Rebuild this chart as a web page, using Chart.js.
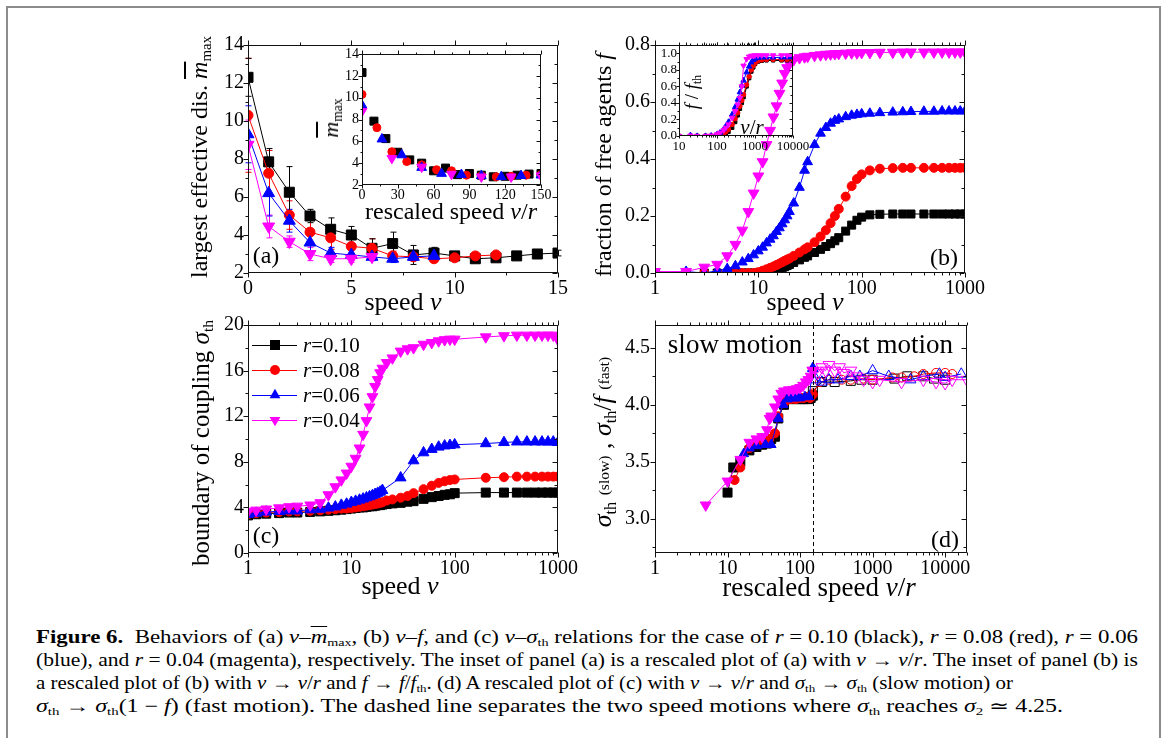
<!DOCTYPE html>
<html>
<head>
<meta charset="utf-8">
<title>Figure 6</title>
<script src="https://cdn.jsdelivr.net/npm/chart.js@4.4.0/dist/chart.umd.min.js"></script>
<style>
  html, body { margin: 0; padding: 0; background: #fff; }
  body { position: relative; width: 1165px; height: 738px; overflow: hidden; font-family: 'Liberation Serif', 'Times New Roman', serif; color: #000; }
  #page { position: absolute; left: 6px; top: 6px; width: 1155px; height: 800px; border: 2px solid #8c8c8c; box-sizing: border-box; }
  canvas { position: absolute; }
  .t { position: absolute; transform: translate(-50%, -50%); white-space: nowrap; line-height: 1; }
  .r { position: absolute; transform: translate(-50%, -50%) rotate(-90deg); white-space: nowrap; line-height: 1; }
  .cap { position: absolute; left: 36px; font-size: 18px; line-height: 23px; display: inline-block; white-space: nowrap; transform-origin: 0 0; }
  sub { font-size: 0.62em; vertical-align: -0.3em; line-height: 0; }
  .sm { font-size: 0.6em; vertical-align: 0.15em; }
  .ov { text-decoration: overline; }
</style>
</head>
<body>
<div id="page"></div>

<canvas id="chartA"></canvas>
<canvas id="chartB"></canvas>
<canvas id="chartC"></canvas>
<canvas id="chartD"></canvas>
<canvas id="insetA"></canvas>
<canvas id="insetB"></canvas>

<!-- axis titles and panel texts -->
<div class="r" style="left:199px;top:157px;font-size:24px">largest effective dis. <i class="ov">m</i><sub>max</sub></div>
<div class="t" style="left:403px;top:302px;font-size:26px">speed <i>v</i></div>
<div class="r" style="left:331px;top:118px;font-size:22px"><i class="ov">m</i><sub>max</sub></div>
<div class="t" style="left:451px;top:211px;font-size:24px">rescaled speed <i>v</i>/<i>r</i></div>
<div class="t" style="left:266px;top:255px;font-size:24px">(a)</div>

<div class="r" style="left:603px;top:165px;font-size:24px">fraction of free agents <i>f</i></div>
<div class="t" style="left:805px;top:302px;font-size:26px">speed <i>v</i></div>
<div class="r" style="left:691px;top:92px;font-size:19px"><i>f</i> / <i>f</i><sub>th</sub></div>
<div class="t" style="left:752px;top:127px;font-size:21px"><i>v</i>/<i>r</i></div>
<div class="t" style="left:944px;top:257px;font-size:24px">(b)</div>

<div class="r" style="left:200px;top:443px;font-size:25px">boundary of coupling <i>σ</i><sub>th</sub></div>
<div class="t" style="left:400px;top:586px;font-size:26px">speed <i>v</i></div>
<div class="t" style="left:266px;top:535px;font-size:24px">(c)</div>

<div class="r" style="left:603px;top:442px;font-size:26px"><i>σ</i><sub>th</sub> <span class="sm">(slow)</span> , <i>σ</i><sub>th</sub>/<i>f</i> <span class="sm">(fast)</span></div>
<div class="t" style="left:819px;top:587px;font-size:27px">rescaled speed <i>v</i>/<i>r</i></div>
<div class="t" style="left:735px;top:344px;font-size:27px">slow motion</div>
<div class="t" style="left:892px;top:344px;font-size:27px">fast motion</div>
<div class="t" style="left:945px;top:539px;font-size:24px">(d)</div>

<div class="cap" data-w="1102" style="top:626px"><b>Figure 6.</b>&ensp;Behaviors of (a) <i>v</i>–<i class="ov">m</i><sub>max</sub>, (b) <i>v</i>–<i>f</i>, and (c) <i>v</i>–<i>σ</i><sub>th</sub> relations for the case of <i>r</i> = 0.10 (black), <i>r</i> = 0.08 (red), <i>r</i> = 0.06</div>
<div class="cap" data-w="1102" style="top:649px">(blue), and <i>r</i> = 0.04 (magenta), respectively. The inset of panel (a) is a rescaled plot of (a) with <i>v</i> → <i>v</i>/<i>r</i>. The inset of panel (b) is</div>
<div class="cap" data-w="977" style="top:672px">a rescaled plot of (b) with <i>v</i> → <i>v</i>/<i>r</i> and <i>f</i> → <i>f</i>/<i>f</i><sub>th</sub>. (d) A rescaled plot of (c) with <i>v</i> → <i>v</i>/<i>r</i> and <i>σ</i><sub>th</sub> → <i>σ</i><sub>th</sub> (slow motion) or</div>
<div class="cap" data-w="1027" style="top:695px"><i>σ</i><sub>th</sub> → <i>σ</i><sub>th</sub>(1 − <i>f</i>) (fast motion). The dashed line separates the two speed motions where <i>σ</i><sub>th</sub> reaches <i>σ</i><sub>2</sub> ≃ 4.25.</div>

<script>
// ---- panel (a): largest effective distance vs speed ----
const speedA = [0, 1, 2, 3, 4, 5, 6, 7, 8, 9, 10, 11, 12, 13, 14, 15];
const mmaxBlack   = [12.3, 7.85, 6.25, 5.0, 4.3, 4.0, 3.3, 3.55, 2.95, 3.05, 2.9, 2.75, 2.8, 2.9, 3.0, 3.05];
const mmaxRed     = [10.3, 7.25, 5.05, 4.15, 3.85, 3.4, 3.3, 2.9, 2.85, 2.75, 2.8, 2.9, 2.95];
const mmaxBlue    = [9.3, 6.2, 4.75, 3.6, 3.05, 2.95, 2.85, 2.75, 2.85, 2.9];
const mmaxMagenta = [8.75, 4.45, 3.65, 3.0, 2.75, 2.75, 2.85];
const errBlack   = [1.0, 0.7, 1.35, 0.35, 0.6, 0.45, 0.5, 0.6, 0.5, 0.3, 0.15, 0.15, 0.15, 0.15, 0.15, 0.15];
const errRed     = [3.0, 1.2, 0.75, 0.7, 0.6, 0.4, 0.5, 0.25, 0.15, 0.15, 0.15, 0.15, 0.15];
const errBlue    = [1.5, 1.2, 0.6, 0.45, 0.3, 0.25, 0.2, 0.2, 0.2, 0.2];
const errMagenta = [1.3, 0.6, 0.3, 0.35, 0.2, 0.2, 0.2];
// inset (a): same values against v/r
const ratioBlackA   = [0, 10, 20, 30, 40, 50, 60, 70, 80, 90, 100, 110, 120, 130, 140, 150];
const ratioRedA     = [0, 12.5, 25, 37.5, 50, 62.5, 75, 87.5, 100, 112.5, 125, 137.5, 150];
const ratioBlueA    = [0, 16.7, 33.3, 50, 66.7, 83.3, 100, 116.7, 133.3, 150];
const ratioMagentaA = [0, 25, 50, 75, 100, 125, 150];

// ---- panel (b): fraction of free agents vs speed ----
const speedB = [1, 2, 3, 4, 5, 6, 7, 8, 9, 10, 11, 12, 13, 14, 15, 16, 17, 18, 19, 20,
  22, 25, 28, 30, 35, 40, 45, 50, 55, 60, 70, 80, 90, 100, 120, 150, 200, 250, 300,
  400, 500, 600, 700, 800, 900, 1000];
const fBlack = [0, 0, 0, 0, 0, 0, 0, 0, 0, 0, 0, 0, 0.002, 0.006, 0.01, 0.014, 0.018, 0.022, 0.026, 0.03,
  0.037, 0.046, 0.055, 0.06, 0.072, 0.083, 0.093, 0.103, 0.113, 0.124, 0.147, 0.168, 0.185, 0.196,
  0.204, 0.206, 0.207, 0.207, 0.207, 0.207, 0.207, 0.207, 0.207, 0.207, 0.207, 0.207];
const fRed = [0, 0, 0, 0, 0, 0, 0, 0, 0, 0.003, 0.008, 0.013, 0.018, 0.023, 0.028, 0.033, 0.038, 0.043, 0.047, 0.051,
  0.06, 0.072, 0.083, 0.09, 0.108, 0.128, 0.15, 0.175, 0.2, 0.225, 0.268, 0.305, 0.33, 0.346,
  0.36, 0.366, 0.368, 0.369, 0.369, 0.369, 0.369, 0.369, 0.369, 0.369, 0.369, 0.369];
const fBlue = [0, 0.005, 0, 0.008, 0.015, 0.025, 0.038, 0.05, 0.063, 0.077, 0.09, 0.105, 0.118, 0.13, 0.145, 0.158, 0.172, 0.186, 0.2, 0.215,
  0.245, 0.3, 0.36, 0.39, 0.45, 0.49, 0.51, 0.525, 0.535, 0.54, 0.548, 0.553, 0.556, 0.558,
  0.56, 0.562, 0.564, 0.565, 0.566, 0.567, 0.567, 0.568, 0.568, 0.568, 0.568, 0.568];
const fMagenta = [0.005, 0.005, 0.02, 0.03, 0.06, 0.1, 0.15, 0.215, 0.28, 0.34, 0.39, 0.45, 0.5, 0.547, 0.586, 0.63, 0.666, 0.7, 0.72, 0.735,
  0.748, 0.755, 0.758, 0.76, 0.763, 0.765, 0.767, 0.768, 0.769, 0.77, 0.771, 0.772, 0.772, 0.773,
  0.773, 0.774, 0.774, 0.775, 0.775, 0.775, 0.775, 0.775, 0.775, 0.775, 0.775, 0.775];
// inset (b): f / f_th against v/r
const ratioB = [10, 20, 30, 50, 70, 100, 120, 150, 170, 200, 250, 300, 350, 400, 450, 500, 600, 700, 800, 900,
  1000, 1200, 1500, 2000, 3000, 5000, 7000, 10000];
const fthBlack = [0, 0, 0, 0, 0, 0, 0.005, 0.015, 0.025, 0.05, 0.1, 0.17, 0.25, 0.33, 0.4, 0.47, 0.6, 0.7, 0.78, 0.83,
  0.87, 0.9, 0.91, 0.915, 0.915, 0.915, 0.915, 0.915];
const fthRed = [0, 0, 0, 0, 0, 0.01, 0.015, 0.03, 0.05, 0.08, 0.14, 0.21, 0.28, 0.36, 0.43, 0.5, 0.62, 0.72, 0.8, 0.85,
  0.88, 0.91, 0.92, 0.925, 0.925, 0.925, 0.925, 0.925];
const fthBlue = [0, 0.01, 0, 0, 0.005, 0.02, 0.04, 0.08, 0.12, 0.17, 0.26, 0.35, 0.44, 0.53, 0.61, 0.67, 0.77, 0.84, 0.89, 0.92,
  0.935, 0.945, 0.95, 0.95, 0.95, 0.95, 0.95, 0.95];
const fthMagenta = [0, 0.005, 0, 0, 0.005, 0.02, 0.04, 0.07, 0.1, 0.14, 0.22, 0.3, 0.38, 0.46, 0.6, 0.85, 0.93, 0.96, 0.97, 0.97,
  0.975, 0.975, 0.975, 0.975, 0.975, 0.975, 0.975, 0.975];

// ---- panel (c): boundary of coupling vs speed ----
const speedC = [1, 1.2, 1.5, 2, 2.5, 3, 4, 5, 6, 7, 8, 9, 10, 11, 12, 13, 14, 15, 16, 17, 18, 19, 20,
  22, 25, 30, 35, 40, 50, 60, 70, 80, 90, 100, 200, 300, 400, 500, 600, 700, 800, 900, 1000];
const sigmaBlack = [3.3, 3.4, 3.45, 3.5, 3.55, 3.55, 3.6, 3.65, 3.7, 3.75, 3.8, 3.85, 3.9, 3.95, 4.0, 4.0, 4.05, 4.1, 4.1, 4.15, 4.2, 4.2, 4.25,
  4.3, 4.35, 4.4, 4.5, 4.55, 4.75, 4.9, 5.0, 5.1, 5.15, 5.25, 5.3, 5.3, 5.3, 5.3, 5.3, 5.3, 5.3, 5.3, 5.3];
const sigmaRed = [3.4, 3.5, 3.55, 3.6, 3.65, 3.65, 3.7, 3.75, 3.8, 3.85, 3.9, 3.9, 3.95, 4.0, 4.05, 4.1, 4.15, 4.2, 4.25, 4.3, 4.35, 4.4, 4.45,
  4.6, 4.7, 4.85, 5.0, 5.25, 5.6, 5.9, 6.15, 6.3, 6.4, 6.45, 6.6, 6.65, 6.7, 6.7, 6.7, 6.7, 6.7, 6.7, 6.7];
const sigmaBlue = [3.4, 3.5, 3.6, 3.65, 3.7, 3.7, 3.8, 3.85, 3.95, 4.05, 4.2, 4.3, 4.45, 4.55, 4.65, 4.75, 4.85, 4.95, 5.05, 5.15, 5.25, 5.35, 5.5,
  null, null, 6.6, null, 8.1, 8.8, 9.1, 9.3, 9.4, 9.45, 9.5, 9.6, 9.7, 9.75, 9.75, 9.75, 9.75, 9.75, 9.75, 9.7];
const sigmaMagenta = [3.65, 3.75, 3.85, 3.95, 4.05, 4.1, 4.2, 4.4, 5.1, 5.8, 6.4, 7.0, 7.6, 8.3, 9.2, 10.4, 11.6, 12.8, 13.7, 14.6, 15.2, 15.8, 16.2,
  16.7, 17.1, 17.7, 17.9, 18.0, 18.3, 18.45, 18.6, 18.7, 18.75, 18.75, 18.95, 19.05, 19.1, 19.1, 19.1, 19.1, 19.1, 19.1, 18.7];
const legendR = ['0.10', '0.08', '0.06', '0.04'];

// ---- panel (d): rescaled boundary, slow (filled) and fast (open) motion ----
const dividerSpeed = 150;
const ticksD = [3.0, 3.5, 4.0, 4.5];
const slowBlackX = [10, 12, 15, 20, 25, 30, 35, 40, 45, 50, 60, 70, 80, 90, 100, 110, 120, 130, 140, 150];
const slowBlack  = [3.23, 3.45, 3.5, 3.6, 3.63, 3.65, 3.66, 3.7, 3.72, 3.88, 4.0, 4.05, 4.05, 4.05, 4.05, 4.05, 4.05, 4.05, 4.06, 4.08];
const slowRedX = [12.5, 15, 20, 25, 30, 37.5, 45, 50, 62.5, 75, 87.5, 100, 112.5, 125, 137.5, 150];
const slowRed  = [3.34, 3.45, 3.62, 3.68, 3.69, 3.7, 3.75, 3.9, 4.03, 4.05, 4.05, 4.06, 4.06, 4.07, 4.06, 4.09];
const slowBlueX = [16.7, 20, 25, 33.3, 40, 50, 58.3, 66.7, 75, 83.3, 91.7, 100, 116.7, 133.3, 150];
const slowBlue  = [3.57, 3.62, 3.64, 3.65, 3.65, 3.88, 4.0, 4.05, 4.06, 4.06, 4.06, 4.06, 4.07, 4.07, 4.32];
const slowMagentaX = [5, 10, 15, 20, 25, 30, 35, 38, 40, 45, 50, 55, 60, 70, 80, 90, 100, 110, 120, 130, 140, 150];
const slowMagenta  = [3.12, 3.33, 3.52, 3.67, 3.7, 3.72, 3.78, 3.88, 3.9, 3.98, 4.05, 4.1, 4.12, 4.13, 4.13, 4.14, 4.15, 4.17, 4.2, 4.22, 4.25, 4.3];
const fastBlackX = [150, 200, 300, 500, 700, 1000, 2000, 3000, 5000, 7000, 10000];
const fastBlack  = [4.12, 4.2, 4.2, 4.21, 4.22, 4.22, 4.23, 4.25, 4.25, 4.23, 4.22];
const fastRedX = [150, 187.5, 250, 375, 500, 750, 1000, 1875, 2500, 3750, 5000, 7500, 10000, 12500];
const fastRed  = [4.1, 4.2, 4.22, 4.22, 4.22, 4.23, 4.22, 4.24, 4.24, 4.25, 4.27, 4.28, 4.28, 4.27];
const fastBlueX = [150, 167, 200, 250, 333, 500, 667, 1000, 1667, 3333, 5000, 8333, 10000, 16667];
const fastBlue  = [4.32, 4.22, 4.2, 4.22, 4.22, 4.25, 4.25, 4.3, 4.25, 4.22, 4.25, 4.27, 4.24, 4.27];
const fastMagentaX = [150, 175, 200, 225, 250, 300, 350, 400, 500, 600, 750, 1000, 1250, 2500, 5000, 7500, 10000, 12500, 20000];
const fastMagenta  = [4.3, 4.28, 4.33, 4.3, 4.35, 4.3, 4.33, 4.28, 4.3, 4.25, 4.22, 4.2, 4.22, 4.2, 4.22, 4.2, 4.19, 4.22, 4.22];

Chart.defaults.font.family = "'Liberation Serif', 'Times New Roman', serif";
Chart.defaults.color = '#000';

const palette = {
  black:   { color: '#000000', shape: 'rect',     rot: 0 },
  red:     { color: '#ff0000', shape: 'circle',   rot: 0 },
  blue:    { color: '#0000ff', shape: 'triangle', rot: 0 },
  magenta: { color: '#ff00ff', shape: 'triangle', rot: 180 }
};

function markerRadius(shape, size) {
  if (shape === 'rect') return size / 1.414;
  if (shape === 'circle') return size / 2;
  return size / 1.6;
}

function series(name, xs, ys, size, extra) {
  const p = palette[name];
  const pts = [];
  ys.forEach((y, i) => { if (y !== null) pts.push({ x: xs[i], y: y }); });
  return Object.assign({
    data: pts,
    borderColor: p.color,
    backgroundColor: p.color,
    borderWidth: 1,
    pointStyle: p.shape,
    pointRotation: p.rot,
    pointRadius: markerRadius(p.shape, size),
    pointBorderColor: p.color,
    pointBackgroundColor: p.color,
    pointBorderWidth: 1,
    tension: 0
  }, extra || {});
}

function isDecade(v) {
  const l = Math.log10(v);
  return Math.abs(l - Math.round(l)) < 1e-9;
}

function axis(type, min, max, font, pad, ticks) {
  return {
    type: type, min: min, max: max,
    grid: { display: false, drawTicks: false },
    border: { display: false },
    ticks: Object.assign({ autoSkip: false, maxRotation: 0, color: '#000', font: { size: font }, padding: pad }, ticks || {})
  };
}
const logLabels = { callback: v => isDecade(v) ? String(v) : '' };
const oneDecimal = v => v.toFixed(1);

// frame with tick marks, minor ticks halfway (linear) or at 2..9 (log)
function tickMarks(scale) {
  const vals = scale.ticks.map(t => t.value);
  const out = [];
  if (scale.type === 'logarithmic') {
    vals.forEach(v => out.push({ v: v, major: isDecade(v) }));
  } else {
    vals.forEach(v => out.push({ v: v, major: true }));
    for (let i = 0; i + 1 < vals.length; i++) out.push({ v: (vals[i] + vals[i + 1]) / 2, major: false });
    if (vals.length > 1) {
      const step = vals[1] - vals[0];
      const lo = vals[0] - step / 2, hi = vals[vals.length - 1] + step / 2;
      if (lo >= scale.min) out.push({ v: lo, major: false });
      if (hi <= scale.max) out.push({ v: hi, major: false });
    }
  }
  return out;
}

const frameTicks = {
  id: 'frameTicks',
  afterDraw(chart, args, opts) {
    const { ctx, chartArea: a } = chart;
    const big = opts.len || 5, small = opts.minorLen || 3;
    const L = Math.round(a.left) + 0.5, R = Math.round(a.right) - 0.5;
    const T = Math.round(a.top) + 0.5, B = Math.round(a.bottom) - 0.5;
    ctx.save();
    ctx.strokeStyle = '#111';
    ctx.lineWidth = 1;
    ctx.strokeRect(L, T, R - L, B - T);
    ctx.beginPath();
    const xs = chart.scales.x, ys = chart.scales.y;
    tickMarks(xs).forEach(t => {
      const p = Math.round(xs.getPixelForValue(t.v)) + 0.5;
      const len = t.major ? big : small;
      ctx.moveTo(p, B); ctx.lineTo(p, B + len);
      ctx.moveTo(p, T); ctx.lineTo(p, T - len);
    });
    tickMarks(ys).forEach(t => {
      const p = Math.round(ys.getPixelForValue(t.v)) + 0.5;
      const len = t.major ? big : small;
      ctx.moveTo(L, p); ctx.lineTo(L - len, p);
      ctx.moveTo(R, p); ctx.lineTo(R - len, p);
    });
    ctx.stroke();
    ctx.restore();
  }
};

const errorBars = {
  id: 'errorBars',
  beforeDatasetsDraw(chart) {
    const { ctx } = chart;
    const xs = chart.scales.x, ys = chart.scales.y;
    chart.data.datasets.forEach(ds => {
      if (!ds.errors) return;
      ctx.save();
      ctx.strokeStyle = ds.borderColor;
      ctx.lineWidth = 1;
      ctx.beginPath();
      ds.data.forEach((p, i) => {
        const e = ds.errors[i];
        if (!e) return;
        const px = Math.round(xs.getPixelForValue(p.x)) + 0.5;
        const top = ys.getPixelForValue(p.y + e), bot = ys.getPixelForValue(p.y - e);
        ctx.moveTo(px, top); ctx.lineTo(px, bot);
        ctx.moveTo(px - 3, top); ctx.lineTo(px + 3, top);
        ctx.moveTo(px - 3, bot); ctx.lineTo(px + 3, bot);
      });
      ctx.stroke();
      ctx.restore();
    });
  }
};

const divider = {
  id: 'divider',
  afterDatasetsDraw(chart, args, opts) {
    if (opts.value === undefined) return;
    const { ctx, chartArea: a } = chart;
    const x = Math.round(chart.scales.x.getPixelForValue(opts.value)) + 0.5;
    ctx.save();
    ctx.strokeStyle = '#000';
    ctx.lineWidth = 1;
    ctx.setLineDash([4, 3]);
    ctx.beginPath();
    ctx.moveTo(x, a.top); ctx.lineTo(x, a.bottom);
    ctx.stroke();
    ctx.restore();
  }
};

function drawMarker(ctx, shape, rot, r, x, y) {
  ctx.beginPath();
  if (shape === 'rect') {
    const s = r * Math.SQRT1_2;
    ctx.rect(x - s, y - s, 2 * s, 2 * s);
  } else if (shape === 'circle') {
    ctx.arc(x, y, r, 0, Math.PI * 2);
  } else {
    const a0 = rot * Math.PI / 180;
    for (let k = 0; k < 3; k++) {
      const a = a0 + k * 2 * Math.PI / 3;
      const px = x + Math.sin(a) * r, py = y - Math.cos(a) * r;
      if (k) ctx.lineTo(px, py); else ctx.moveTo(px, py);
    }
    ctx.closePath();
  }
  ctx.fill();
}

const inLegend = {
  id: 'inLegend',
  afterDraw(chart, args, opts) {
    if (!opts.keys) return;
    const { ctx, chartArea: a } = chart;
    ctx.save();
    opts.keys.forEach((key, i) => {
      const p = palette[key];
      const y = a.top + 20 + i * 25;
      ctx.strokeStyle = p.color;
      ctx.fillStyle = p.color;
      ctx.lineWidth = 1;
      ctx.beginPath();
      ctx.moveTo(a.left + 4, y + 0.5); ctx.lineTo(a.left + 49, y + 0.5);
      ctx.stroke();
      drawMarker(ctx, p.shape, p.rot, markerRadius(p.shape, opts.size), a.left + 27, y);
      ctx.fillStyle = '#000';
      ctx.textBaseline = 'middle';
      ctx.font = "italic 21px 'Liberation Serif', serif";
      ctx.fillText('r', a.left + 55, y + 1);
      const w = ctx.measureText('r').width;
      ctx.font = "21px 'Liberation Serif', serif";
      ctx.fillText('=' + opts.labels[i], a.left + 55 + w, y + 1);
    });
    ctx.restore();
  }
};

function panel(id, plot, m, xAxis, yAxis, datasets, plugins) {
  const c = document.getElementById(id);
  const w = plot.r - plot.l + m.l + m.r;
  const h = plot.b - plot.t + m.t + m.b;
  c.width = w; c.height = h;
  c.style.left = (plot.l - m.l) + 'px';
  c.style.top = (plot.t - m.t) + 'px';
  c.style.width = w + 'px';
  c.style.height = h + 'px';
  xAxis.afterFit = s => { s.height = m.b; s.paddingLeft = 0; s.paddingRight = 0; };
  yAxis.afterFit = s => { s.width = m.l; s.paddingTop = 0; s.paddingBottom = 0; };
  return new Chart(c, {
    type: 'line',
    data: { datasets: datasets },
    options: {
      responsive: false,
      devicePixelRatio: 1,
      animation: false,
      events: [],
      layout: { padding: { left: 0, top: m.t, right: m.r, bottom: 0 }, autoPadding: false },
      scales: { x: xAxis, y: yAxis },
      plugins: Object.assign({ legend: { display: false }, tooltip: { enabled: false } }, plugins || {})
    },
    plugins: [frameTicks, errorBars, divider, inLegend]
  });
}

const mainM = { l: 60, t: 15, r: 35, b: 35 };

// (a)
panel('chartA', { l: 248, r: 558, t: 45, b: 273 }, mainM,
  axis('linear', 0, 15, 20, 4, { stepSize: 5 }),
  axis('linear', 2, 14, 20, 4, { stepSize: 2 }),
  [
    series('magenta', speedA, mmaxMagenta, 11, { errors: errMagenta }),
    series('blue', speedA, mmaxBlue, 11, { errors: errBlue }),
    series('red', speedA, mmaxRed, 10, { errors: errRed }),
    series('black', speedA, mmaxBlack, 10, { errors: errBlack })
  ]);

// (b)
panel('chartB', { l: 655, r: 965, t: 45, b: 273 }, mainM,
  axis('logarithmic', 1, 1000, 20, 4, logLabels),
  axis('linear', 0, 0.8, 20, 5, { stepSize: 0.2, callback: oneDecimal }),
  [
    series('magenta', speedB, fMagenta, 10),
    series('blue', speedB, fBlue, 9),
    series('red', speedB, fRed, 9),
    series('black', speedB, fBlack, 8)
  ]);

// (c)
panel('chartC', { l: 248, r: 558, t: 325, b: 553 }, mainM,
  axis('logarithmic', 1, 1000, 20, 4, logLabels),
  axis('linear', 0, 20, 20, 4, { stepSize: 4 }),
  [
    series('magenta', speedC, sigmaMagenta, 10),
    series('blue', speedC, sigmaBlue, 10),
    series('red', speedC, sigmaRed, 9),
    series('black', speedC, sigmaBlack, 9)
  ],
  { inLegend: { keys: ['black', 'red', 'blue', 'magenta'], labels: legendR, size: 10 } });

// (d)
const open = { pointBackgroundColor: 'rgba(255,255,255,0)', backgroundColor: 'rgba(255,255,255,0)' };
const yAxisD = axis('linear', 2.7, 4.7, 20, 5, { callback: oneDecimal });
yAxisD.afterBuildTicks = s => { s.ticks = ticksD.map(v => ({ value: v })); };
panel('chartD', { l: 655, r: 967, t: 325, b: 553 }, mainM,
  axis('logarithmic', 1, 20000, 20, 4, logLabels),
  yAxisD,
  [
    series('magenta', slowMagentaX, slowMagenta, 10),
    series('blue', slowBlueX, slowBlue, 9),
    series('red', slowRedX, slowRed, 9),
    series('black', slowBlackX, slowBlack, 9),
    series('magenta', fastMagentaX, fastMagenta, 11, open),
    series('blue', fastBlueX, fastBlue, 10, open),
    series('red', fastRedX, fastRed, 9, open),
    series('black', fastBlackX, fastBlack, 9, open)
  ],
  { divider: { value: dividerSpeed } });

// inset of (a)
const noLine = { showLine: false };
panel('insetA', { l: 362, r: 541, t: 54, b: 185 }, { l: 30, t: 8, r: 14, b: 22 },
  axis('linear', 0, 150, 14, 2, { stepSize: 30 }),
  axis('linear', 2, 14, 14, 3, { stepSize: 2 }),
  [
    series('magenta', ratioMagentaA, mmaxMagenta, 9, noLine),
    series('blue', ratioBlueA, mmaxBlue, 9, noLine),
    series('red', ratioRedA, mmaxRed, 8, noLine),
    series('black', ratioBlackA, mmaxBlack, 8, noLine)
  ],
  { frameTicks: { len: 4, minorLen: 2 } });

// inset of (b)
panel('insetB', { l: 679, r: 793, t: 45, b: 136 }, { l: 28, t: 6, r: 26, b: 20 },
  axis('logarithmic', 10, 10000, 13, 3, logLabels),
  axis('linear', 0, 1.1, 13, 2, { stepSize: 0.2, includeBounds: false, callback: oneDecimal }),
  [
    series('magenta', ratioB, fthMagenta, 5),
    series('blue', ratioB, fthBlue, 5),
    series('red', ratioB, fthRed, 4.5),
    series('black', ratioB, fthBlack, 3.5, { borderWidth: 1.5 })
  ],
  { frameTicks: { len: 3, minorLen: 2 } });

// stretch each caption line to the width it has in the figure
document.querySelectorAll('.cap').forEach(el => {
  const target = parseFloat(el.dataset.w);
  const natural = el.getBoundingClientRect().width;
  el.style.transform = 'scaleX(' + (target / natural).toFixed(4) + ')';
});
</script>
</body>
</html>
